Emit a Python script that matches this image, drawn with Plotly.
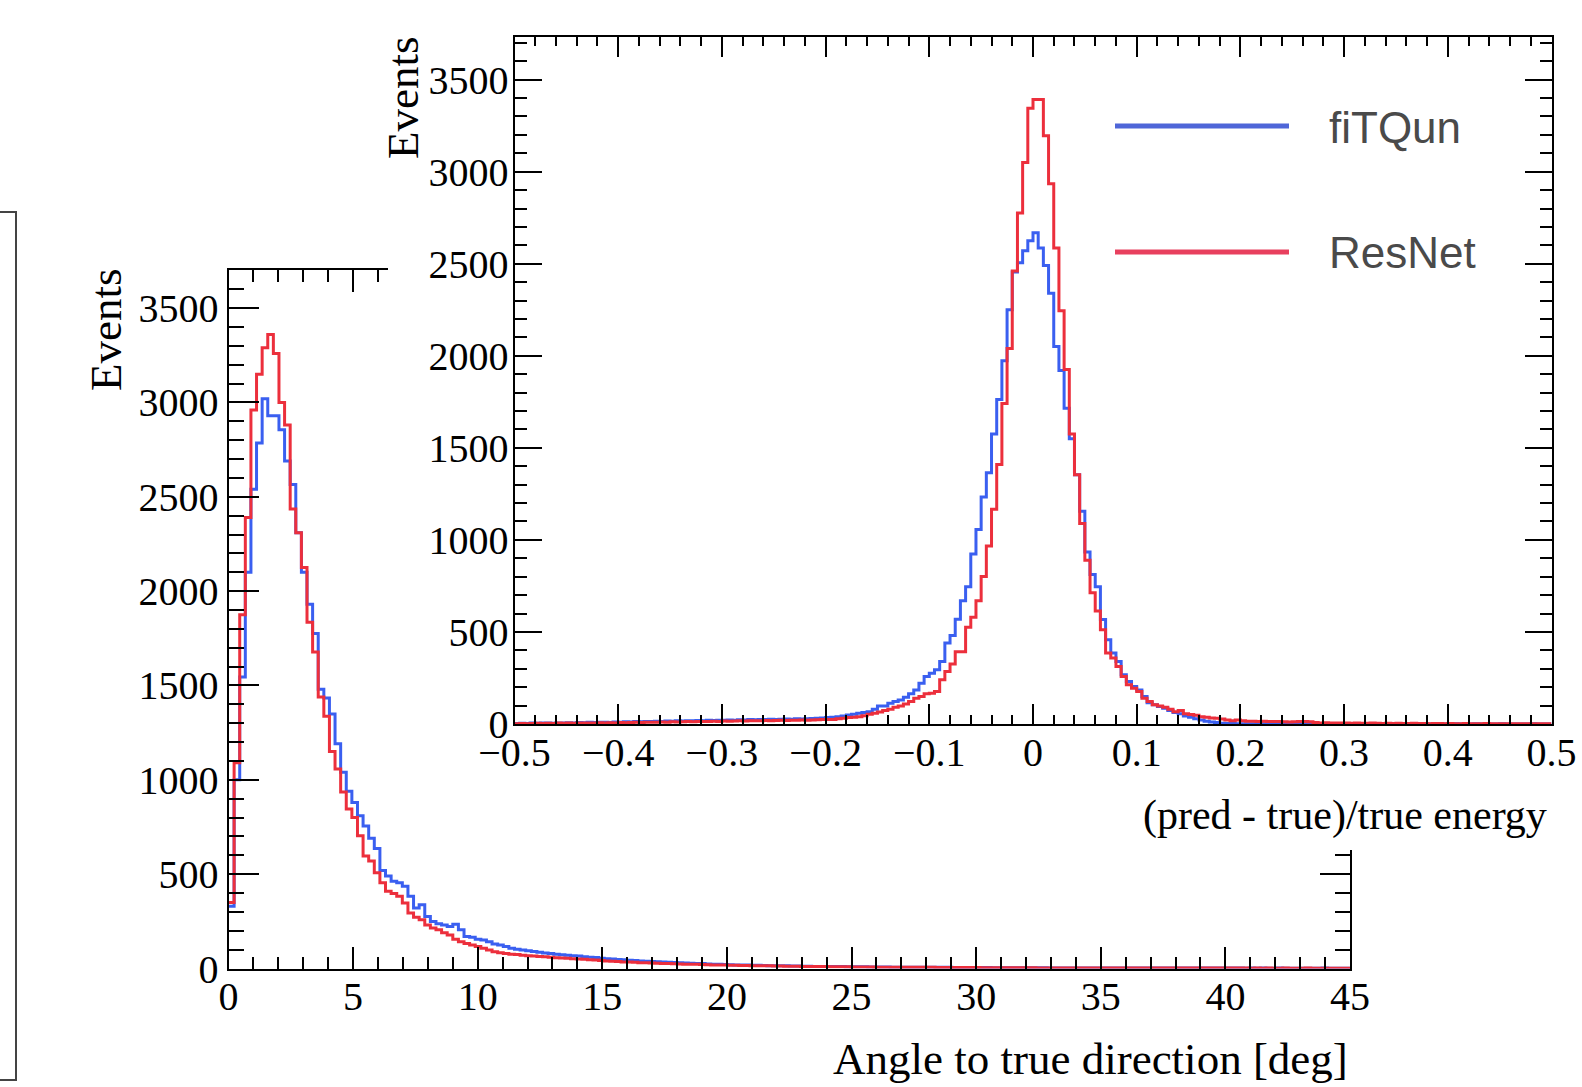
import plotly.graph_objects as go

W, H = 1582, 1087

# ---------------- data ----------------
# Lower panel: angle to true direction [deg], 200 bins over 0..45
angle_lo, angle_hi, angle_nbins = 0.0, 45.0, 200
angle_fitqun = [
    330, 1000, 1545, 2100, 2540, 2785, 3020, 2930, 2930, 2855,
    2690, 2565, 2310, 2100, 1930, 1775, 1480, 1434, 1349, 1191,
    1040, 940, 880, 810, 755, 690, 636, 520, 490, 463,
    454, 436, 383, 320, 338, 276, 249, 237, 231, 222,
    235, 205, 169, 166, 155, 151, 142, 130, 125, 116,
    107, 102, 98, 94, 90, 86, 82, 80, 76, 73,
    70, 68, 66, 62, 60, 58, 54, 52, 50, 48,
    46, 44, 42, 40, 39, 37, 36, 34, 33, 32,
    30, 29, 28, 27, 26, 24, 23, 22, 21, 20,
    19, 19, 18, 17, 17, 16, 15, 15, 14, 14,
    13, 13, 12, 12, 11, 11, 11, 10, 10, 10,
    9, 9, 9, 9, 8, 8, 8, 8, 7, 7,
    7, 7, 7, 6, 6, 6, 6, 6, 6, 5,
    5, 5, 5, 5, 5, 5, 4, 4, 4, 4,
    4, 4, 4, 4, 4, 4, 3, 3, 3, 3,
    3, 3, 3, 3, 3, 3, 3, 3, 3, 2,
    2, 2, 2, 2, 2, 2, 2, 2, 2, 2,
    2, 2, 2, 2, 2, 2, 2, 2, 2, 2,
    2, 1, 2, 1, 2, 1, 1, 2, 1, 1,
    1, 1, 1, 1, 1, 2, 1, 1, 1, 1,
]
angle_resnet = [
    350, 1090, 1875, 2390, 2960, 3150, 3290, 3360, 3260, 3000,
    2880, 2435, 2309, 2126, 1835, 1677, 1439, 1337, 1150, 1057,
    935, 845, 800, 703, 596, 570, 507, 454, 409, 397,
    383, 347, 294, 272, 258, 231, 214, 205, 190, 178,
    155, 142, 133, 125, 116, 107, 98, 89, 84, 80,
    76, 74, 70, 68, 66, 63, 62, 60, 57, 55,
    54, 52, 50, 49, 46, 45, 42, 40, 38, 37,
    35, 34, 33, 31, 30, 29, 28, 27, 26, 25,
    24, 23, 22, 22, 21, 20, 19, 18, 18, 17,
    17, 16, 16, 15, 15, 14, 14, 13, 13, 12,
    12, 12, 11, 11, 10, 10, 10, 9, 9, 9,
    9, 8, 8, 8, 8, 7, 7, 7, 7, 7,
    6, 6, 6, 6, 6, 6, 5, 5, 5, 5,
    5, 5, 5, 5, 4, 4, 4, 4, 4, 4,
    4, 4, 4, 4, 3, 3, 3, 3, 3, 3,
    3, 3, 3, 3, 3, 3, 3, 3, 2, 2,
    2, 2, 2, 2, 2, 2, 2, 2, 2, 2,
    2, 2, 2, 2, 2, 2, 2, 2, 2, 2,
    2, 2, 1, 2, 1, 2, 1, 1, 2, 1,
    1, 1, 2, 1, 1, 1, 1, 1, 1, 1,
]

# Inset: (pred - true)/true energy, 200 bins over -0.5..0.5
energy_lo, energy_hi, energy_nbins = -0.5, 0.5, 200
energy_fitqun = [
    3, 4, 3, 5, 4, 6, 5, 4, 6, 5,
    7, 6, 8, 7, 9, 8, 10, 9, 8, 11,
    10, 12, 11, 13, 12, 14, 13, 15, 14, 16,
    15, 17, 16, 18, 17, 19, 18, 20, 19, 21,
    20, 22, 21, 23, 22, 24, 23, 25, 24, 26,
    25, 26, 27, 26, 28, 27, 29, 30, 31, 33,
    35, 36, 40, 44, 49, 53, 58, 62, 67, 80,
    98, 98, 113, 122, 131, 145, 164, 185, 222, 258,
    276, 294, 340, 440, 481, 569, 669, 746, 923, 1056,
    1233, 1365, 1575, 1763, 1973, 2250, 2455, 2505, 2570, 2625,
    2668, 2585, 2490, 2340, 2050, 1920, 1715, 1550, 1354, 1155,
    934, 812, 746, 567, 458, 385, 339, 267, 231, 204,
    185, 149, 116, 104, 95, 86, 73, 62, 55, 44,
    36, 29, 22, 15, 11, 8, 4, 3, 3, 2,
    2, 2, 1, 2, 1, 1, 2, 1, 1, 1,
    1, 1, 0, 1, 1, 0, 1, 1, 0, 1,
    1, 0, 1, 0, 1, 1, 0, 1, 0, 0,
    1, 0, 0, 1, 0, 1, 0, 0, 1, 0,
    0, 1, 0, 0, 0, 1, 0, 0, 0, 0,
    1, 0, 0, 0, 0, 0, 1, 0, 0, 0,
]
energy_resnet = [
    2, 3, 2, 3, 4, 3, 4, 3, 5, 4,
    5, 4, 6, 5, 6, 5, 7, 6, 7, 6,
    8, 7, 8, 9, 8, 10, 9, 10, 11, 10,
    12, 11, 12, 13, 12, 14, 13, 14, 15, 14,
    16, 15, 16, 17, 16, 18, 17, 18, 19, 18,
    19, 20, 19, 21, 20, 22, 21, 22, 23, 24,
    25, 25, 29, 31, 35, 36, 40, 45, 53, 58,
    65, 73, 80, 91, 98, 109, 122, 140, 149, 164,
    167, 176, 240, 285, 326, 392, 392, 525, 580, 669,
    801, 967, 1166, 1409, 1741, 2039, 2460, 2775, 3050, 3345,
    3392, 3392, 3195, 2935, 2585, 2245, 1925, 1575, 1354, 1089,
    890, 713, 614, 512, 385, 358, 313, 258, 213, 194,
    176, 140, 122, 104, 98, 91, 80, 67, 73, 55,
    51, 47, 40, 36, 33, 31, 27, 22, 18, 22,
    18, 15, 15, 14, 15, 14, 13, 13, 12, 11,
    12, 13, 14, 12, 8, 6, 7, 5, 6, 5,
    5, 4, 5, 4, 4, 5, 4, 3, 4, 3,
    4, 3, 3, 4, 3, 3, 2, 3, 3, 2,
    3, 2, 2, 3, 2, 2, 2, 3, 2, 2,
    2, 2, 1, 2, 2, 1, 2, 1, 2, 1,
]

series_names = ["fiTQun", "ResNet"]
BLUE = "#3a5ff0"
RED = "#ec2f3c"


def step_xy(values, lo, hi, n):
    w = (hi - lo) / n
    xs = [lo + i * w for i in range(n)] + [hi]
    ys = list(values) + [values[-1]]
    return xs, ys


def px_x(p):
    return p / W


def px_y(p):
    return (H - p) / H


fig = go.Figure()

# lower panel histograms (xy)
for vals, col, name in [(angle_fitqun, BLUE, series_names[0]), (angle_resnet, RED, series_names[1])]:
    xs, ys = step_xy(vals, angle_lo, angle_hi, angle_nbins)
    fig.add_trace(go.Scatter(x=xs, y=ys, mode="lines", line=dict(color=col, width=3, shape="hv"),
                             name=name, showlegend=False, xaxis="x", yaxis="y", hoverinfo="skip"))

# white cover for the inset pad (x2y2)
fig.add_trace(go.Scatter(x=[0, 1, 1, 0, 0], y=[0, 0, 1, 1, 0], mode="lines", fill="toself",
                         fillcolor="white", line=dict(width=0, color="white"), showlegend=False,
                         xaxis="x2", yaxis="y2", hoverinfo="skip"))

# inset histograms (x3y3)
for vals, col, name in [(energy_fitqun, BLUE, series_names[0]), (energy_resnet, RED, series_names[1])]:
    xs, ys = step_xy(vals, energy_lo, energy_hi, energy_nbins)
    fig.add_trace(go.Scatter(x=xs, y=ys, mode="lines", line=dict(color=col, width=3, shape="hv"),
                             name=name, showlegend=False, xaxis="x3", yaxis="y3", hoverinfo="skip"))

tickfont = dict(family="Liberation Serif, Times New Roman, serif", size=40, color="black")


def frame_axis(**kw):
    d = dict(showline=True, linecolor="black", linewidth=2, mirror="allticks", ticks="inside",
             tickcolor="black", tickwidth=1.5, showgrid=False, zeroline=False, tickfont=tickfont,
             fixedrange=True, automargin=False)
    d.update(kw)
    return d


fig.update_layout(
    width=W, height=H, autosize=False,
    margin=dict(l=0, r=0, t=0, b=0, pad=0, autoexpand=False),
    paper_bgcolor="white", plot_bgcolor="white",
    showlegend=False,
    xaxis=frame_axis(domain=[px_x(228.5), px_x(1350)], range=[angle_lo, angle_hi], anchor="y",
                     tickmode="linear", tick0=0, dtick=5, ticklen=22, ticklabelstandoff=-9,
                     minor=dict(ticks="inside", ticklen=12, dtick=1, tickcolor="black", tickwidth=1.5)),
    yaxis=frame_axis(domain=[px_y(968.5), px_y(270.4)], range=[0, 3700], anchor="x",
                     tickmode="linear", tick0=0, dtick=500, ticklen=30, tickformat="d",
                     minor=dict(ticks="inside", ticklen=15, dtick=100, tickcolor="black", tickwidth=1.5)),
    xaxis2=dict(domain=[px_x(388), 1.0], range=[0, 1], visible=False, anchor="y2", fixedrange=True),
    yaxis2=dict(domain=[px_y(850), 1.0], range=[0, 1], visible=False, anchor="x2", fixedrange=True),
    xaxis3=frame_axis(domain=[px_x(514.5), px_x(1551.5)], range=[energy_lo, energy_hi], anchor="y3",
                      tickmode="linear", tick0=-0.5, dtick=0.1, ticklen=20, ticklabelstandoff=-8,
                      minor=dict(ticks="inside", ticklen=9, dtick=0.02, tickcolor="black", tickwidth=1.5)),
    yaxis3=frame_axis(domain=[px_y(724), px_y(37.3)], range=[0, 3730], anchor="x3",
                      tickmode="linear", tick0=0, dtick=500, ticklen=27, tickformat="d",
                      ticklabelstandoff=-4,
                      minor=dict(ticks="inside", ticklen=12, dtick=100, tickcolor="black", tickwidth=1.5)),
)

titlefont_lo = dict(family="Liberation Serif, Times New Roman, serif", size=45, color="black")
titlefont_hi = dict(family="Liberation Serif, Times New Roman, serif", size=42, color="black")
legfont = dict(family="Liberation Sans, Arial, sans-serif", size=44, color="#4a4a4a")

annotations = [
    dict(text="Angle to true direction [deg]", x=px_x(1350), y=px_y(1059), xanchor="right", yanchor="middle",
         font=titlefont_lo),
    dict(text="(pred - true)/true energy", x=px_x(1549), y=px_y(815), xanchor="right", yanchor="middle",
         font=titlefont_hi),
    dict(text="Events", textangle=-90, x=px_x(106), y=px_y(267), xanchor="center", yanchor="top",
         font=titlefont_lo),
    dict(text="Events", textangle=-90, x=px_x(403.6), y=px_y(35.3), xanchor="center", yanchor="top",
         font=titlefont_lo),
    dict(text=series_names[0], x=px_x(1327), y=px_y(128), xanchor="left", yanchor="middle", font=legfont),
    dict(text=series_names[1], x=px_x(1327), y=px_y(252), xanchor="left", yanchor="middle", font=legfont),
]
for a in annotations:
    a.update(xref="paper", yref="paper", showarrow=False)
fig.update_layout(annotations=annotations)

shapes = [
    dict(type="rect", xref="paper", yref="paper", x0=px_x(-20), x1=px_x(16), y0=px_y(1080), y1=px_y(212),
         line=dict(color="#444444", width=2), fillcolor="rgba(0,0,0,0)", layer="above"),
    dict(type="line", xref="paper", yref="paper", x0=px_x(1115), x1=px_x(1289), y0=px_y(126), y1=px_y(126),
         line=dict(color="#4f66d8", width=5), layer="above"),
    dict(type="line", xref="paper", yref="paper", x0=px_x(1115), x1=px_x(1289), y0=px_y(252), y1=px_y(252),
         line=dict(color="#e8405e", width=5), layer="above"),
]
fig.update_layout(shapes=shapes)

fig.write_html("out.html", include_plotlyjs=True, config={"displayModeBar": False},
               post_script="document.body.style.margin='0px';document.body.style.overflow='hidden';")
